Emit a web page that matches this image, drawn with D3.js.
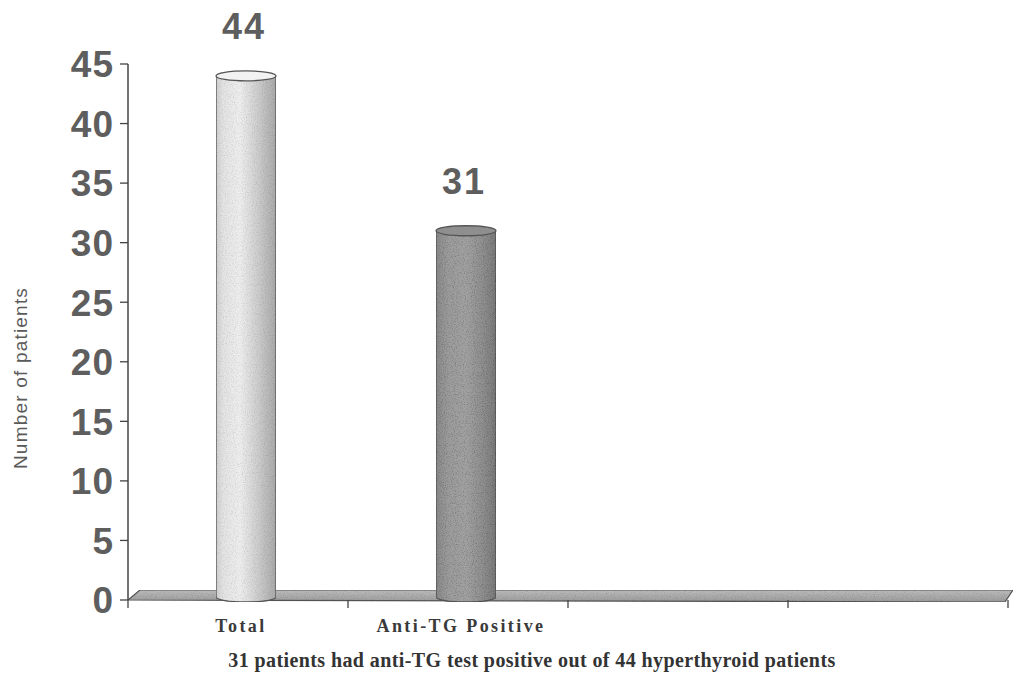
<!DOCTYPE html>
<html>
<head>
<meta charset="utf-8">
<script src="https://cdn.jsdelivr.net/npm/d3@7/dist/d3.min.js"></script>
<style>
  html, body { margin: 0; padding: 0; background: #fff; }
  svg { display: block; }
</style>
</head>
<body>
<svg id="chart" width="1015" height="681"></svg>
<script>
// Patients counted per group
const categories = ["Total", "Anti-TG Positive", "", ""];
const values = [44, 31, null, null];
const yTicks = [0, 5, 10, 15, 20, 25, 30, 35, 40, 45];
const yTitle = "Number of patients";
const caption = "31 patients had anti-TG test positive out of 44 hyperthyroid patients";

const svg = d3.select("#chart");
const plotLeft = 128, plotRight = 1008, plotTop = 64, plotBase = 600;
const depth = 12;      // offset of the back edge of the floor
const floorH = 10;

const y = d3.scaleLinear().domain([0, 45]).range([plotBase, plotTop]);
const x = d3.scaleBand().domain(categories.map((c, i) => i)).range([plotLeft, plotRight]);

const defs = svg.append("defs");

// grain used on bars and floor
function grainFilter(id, strength, seed) {
  const f = defs.append("filter").attr("id", id)
    .attr("x", 0).attr("y", 0).attr("width", 1).attr("height", 1);
  f.append("feTurbulence").attr("type", "fractalNoise").attr("baseFrequency", 0.9)
    .attr("numOctaves", 2).attr("seed", seed).attr("result", "noise");
  f.append("feColorMatrix").attr("in", "noise").attr("type", "matrix")
    .attr("values", "0 0 0 0 0  0 0 0 0 0  0 0 0 0 0  0 0 0 -1.6 0.9").attr("result", "dots");
  f.append("feComposite").attr("in", "dots").attr("in2", "SourceGraphic").attr("operator", "in").attr("result", "dotsIn");
  f.append("feComponentTransfer").attr("in", "dotsIn").attr("result", "dotsFaint")
    .append("feFuncA").attr("type", "linear").attr("slope", strength);
  const m = f.append("feMerge");
  m.append("feMergeNode").attr("in", "SourceGraphic");
  m.append("feMergeNode").attr("in", "dotsFaint");
}
grainFilter("grain", 0.35, 4);
grainFilter("grainStrong", 0.6, 7);

function hGrad(id, stops) {
  const g = defs.append("linearGradient").attr("id", id)
    .attr("x1", "0%").attr("x2", "100%").attr("y1", "0%").attr("y2", "0%");
  stops.forEach(([o, c]) => g.append("stop").attr("offset", o).attr("stop-color", c));
}
hGrad("barLight", [["0%", "#cfcfcf"], ["12%", "#e4e4e4"], ["40%", "#eeeeee"], ["70%", "#cdcdcd"], ["100%", "#a9a9a9"]]);
hGrad("barDark", [["0%", "#8a8a8a"], ["20%", "#9c9c9c"], ["50%", "#a2a2a2"], ["80%", "#8e8e8e"], ["100%", "#7a7a7a"]]);
const fg = defs.append("linearGradient").attr("id", "floorGrad")
  .attr("x1", "0%").attr("x2", "0%").attr("y1", "0%").attr("y2", "100%");
fg.append("stop").attr("offset", "0%").attr("stop-color", "#bdbdbd");
fg.append("stop").attr("offset", "100%").attr("stop-color", "#9a9a9a");

// floor slab
svg.append("path")
  .attr("d", `M${plotLeft},${plotBase} L${plotLeft + depth},${plotBase - floorH} L${plotRight + 5},${plotBase - floorH} L${plotRight - 3},${plotBase + 2} Z`)
  .attr("fill", "url(#floorGrad)")
  .attr("stroke", "#555").attr("stroke-width", 1.2)
  .attr("filter", "url(#grain)");

// y axis
svg.append("line").attr("x1", plotLeft).attr("x2", plotLeft).attr("y1", y(45)).attr("y2", plotBase)
  .attr("stroke", "#444").attr("stroke-width", 1.5);
svg.append("g").selectAll("line").data(yTicks).join("line")
  .attr("x1", plotLeft - 8).attr("x2", plotLeft).attr("y1", d => y(d)).attr("y2", d => y(d))
  .attr("stroke", "#444").attr("stroke-width", 1.3);
svg.append("g").selectAll("text").data(yTicks).join("text")
  .attr("x", plotLeft - 14).attr("y", d => y(d)).attr("dy", "0.36em")
  .attr("text-anchor", "end")
  .attr("font-family", "Liberation Sans, Arial, sans-serif")
  .attr("font-size", 37).attr("font-weight", "bold").attr("fill", "#5e5e5e")
  .attr("letter-spacing", 1)
  .text(d => d);

// category axis ticks
const catTicks = categories.map((c, i) => x(i)).concat([plotRight]);
svg.append("g").selectAll("line").data(catTicks).join("line")
  .attr("x1", d => d).attr("x2", d => d).attr("y1", plotBase).attr("y2", plotBase + 8)
  .attr("stroke", "#444").attr("stroke-width", 1.3);

// category labels
svg.append("g").selectAll("text").data(categories).join("text")
  .attr("x", (d, i) => x(i) + x.bandwidth() / 2 + 3).attr("y", 632)
  .attr("text-anchor", "middle")
  .attr("font-family", "Liberation Serif, Times New Roman, serif")
  .attr("font-size", 18).attr("font-weight", "bold").attr("fill", "#3a3a3a")
  .attr("letter-spacing", 2.4)
  .text(d => d);

// cylinders
const barW = 60, ry = 5;
const barData = values.map((v, i) => ({ v, i })).filter(d => d.v != null);
const bars = svg.append("g").selectAll("g").data(barData).join("g");
bars.each(function (d) {
  const g = d3.select(this);
  const cx = x(d.i) + x.bandwidth() / 2 + 8;
  const x0 = cx - barW / 2, x1 = cx + barW / 2;
  const yt = y(d.v), yb = plotBase - 3;
  const fill = d.i === 0 ? "url(#barLight)" : "url(#barDark)";
  g.append("path")
    .attr("d", `M${x0},${yt} L${x0},${yb} A${barW / 2},${ry} 0 0 0 ${x1},${yb} L${x1},${yt} Z`)
    .attr("fill", fill).attr("stroke", "#555").attr("stroke-width", 1.3)
    .attr("filter", d.i === 0 ? "url(#grain)" : "url(#grainStrong)");
  g.append("ellipse").attr("cx", cx).attr("cy", yt).attr("rx", barW / 2).attr("ry", ry)
    .attr("fill", d.i === 0 ? "#f2f2f2" : "#8f8f8f")
    .attr("stroke", "#555").attr("stroke-width", 1.3);
  g.append("text").attr("x", cx - 2).attr("y", yt - 37)
    .attr("text-anchor", "middle")
    .attr("font-family", "Liberation Sans, Arial, sans-serif")
    .attr("font-size", 36).attr("font-weight", "bold").attr("fill", "#5e5e5e")
    .attr("letter-spacing", 2)
    .text(d.v);
});

// y axis title
svg.append("text")
  .attr("transform", `translate(27,378) rotate(-90)`)
  .attr("text-anchor", "middle")
  .attr("font-family", "Liberation Sans, Arial, sans-serif")
  .attr("font-size", 19).attr("fill", "#5a5a5a")
  .attr("letter-spacing", 1.2)
  .text(yTitle);

// caption
svg.append("text").attr("x", 532).attr("y", 667)
  .attr("text-anchor", "middle")
  .attr("font-family", "Liberation Serif, Times New Roman, serif")
  .attr("font-size", 20).attr("font-weight", "bold").attr("fill", "#333")
  .attr("letter-spacing", 0.4)
  .text(caption);
</script>
</body>
</html>
